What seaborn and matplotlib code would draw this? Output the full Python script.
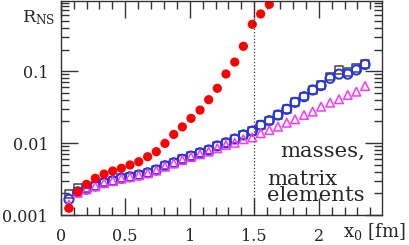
import matplotlib
matplotlib.use('Agg')
import matplotlib.pyplot as plt
import matplotlib.ticker as mticker
import seaborn as sns
import pandas as pd

# x0 values (fm) for each point
x0 = [0.064, 0.132, 0.200, 0.268, 0.336, 0.403, 0.470, 0.537, 0.605, 0.674,
      0.741, 0.808, 0.876, 0.943, 1.010, 1.080, 1.147, 1.214, 1.281, 1.349,
      1.416, 1.485, 1.550, 1.617, 1.684, 1.752, 1.816, 1.886, 1.953, 2.018,
      2.088, 2.157, 2.225, 2.292, 2.359]

# filled red circles (end when they leave the frame)
r_red = [0.00124, 0.00211, 0.00267, 0.00324, 0.00371, 0.00409, 0.00446, 0.00496,
         0.00551, 0.00647, 0.0076, 0.0099, 0.0132, 0.0168, 0.0221, 0.0288,
         0.0402, 0.0578, 0.0914, 0.134, 0.222, 0.449, 0.625, 0.85]

# open blue circles
r_blue = [0.00165, 0.0021, 0.00228, 0.00253, 0.00281, 0.0030, 0.00324, 0.0034,
          0.0036, 0.00387, 0.00423, 0.00485, 0.00533, 0.00595, 0.0066, 0.00734,
          0.00802, 0.00912, 0.0101, 0.0114, 0.0130, 0.0147, 0.0177, 0.0205,
          0.0246, 0.0295, 0.0369, 0.0442, 0.0548, 0.063, 0.0797, 0.091, 0.091,
          0.104, 0.124]

# open black squares
r_square = [0.00196, 0.00235, 0.00235, 0.00255, 0.00283, 0.0030, 0.00326, 0.0034,
            0.0036, 0.00389, 0.00425, 0.00487, 0.00535, 0.00597, 0.0066, 0.00736,
            0.00805, 0.00915, 0.0101, 0.0114, 0.0131, 0.0148, 0.0178, 0.0206,
            0.0247, 0.0296, 0.0370, 0.0444, 0.0550, 0.064, 0.0845, 0.104, 0.098,
            0.112, 0.125]

# open magenta triangles
r_tri = [0.0014, 0.00204, 0.00228, 0.0025, 0.00278, 0.00297, 0.0032, 0.00336,
         0.00355, 0.0038, 0.00415, 0.0047, 0.0052, 0.0058, 0.0064, 0.0070,
         0.0076, 0.00848, 0.00942, 0.0101, 0.0113, 0.0120, 0.0137, 0.0152,
         0.0169, 0.0192, 0.0214, 0.0246, 0.0274, 0.0321, 0.0365, 0.0407,
         0.0467, 0.0519, 0.0622]

df_red = pd.DataFrame({'x0': x0[:len(r_red)], 'R': r_red})
df_blue = pd.DataFrame({'x0': x0, 'R': r_blue})
df_sq = pd.DataFrame({'x0': x0, 'R': r_square})
df_tri = pd.DataFrame({'x0': x0, 'R': r_tri})

sns.set_style('ticks')
plt.rcParams['font.family'] = ['DejaVu Serif']
plt.rcParams['mathtext.fontset'] = 'dejavuserif'

W, H = 409, 245
fig = plt.figure(figsize=(W / 100, H / 100), dpi=100)
ax = fig.add_axes([60.7 / W, 1 - 215 / H, (381.7 - 60.7) / W, (215 - 1) / H])

sns.scatterplot(data=df_sq, x='x0', y='R', ax=ax, marker='s', s=32,
                facecolor='none', edgecolor='#444444', linewidth=1.1)
sns.scatterplot(data=df_blue, x='x0', y='R', ax=ax, marker='o', s=44,
                facecolor='none', edgecolor='#2233ee', linewidth=1.4)
sns.scatterplot(data=df_tri, x='x0', y='R', ax=ax, marker='^', s=38,
                facecolor='none', edgecolor='#ff33ff', linewidth=1.1)
sns.scatterplot(data=df_red, x='x0', y='R', ax=ax, marker='o', s=44,
                color='#ff0000', edgecolor='none', linewidth=0)

ax.axvline(1.5, color='#333333', ls=':', lw=0.9)

ax.set_yscale('log')
ax.set_xlim(0, 2.488)
ax.set_ylim(0.001, 0.947)
ax.set_xlabel('')
ax.set_ylabel('')

ax.xaxis.set_major_locator(mticker.MultipleLocator(0.5))
ax.xaxis.set_minor_locator(mticker.MultipleLocator(0.1))
ax.xaxis.set_major_formatter(mticker.FuncFormatter(lambda v, p: '%g' % v if v < 2.4 else ''))
ax.yaxis.set_major_locator(mticker.LogLocator(base=10))
ax.yaxis.set_minor_locator(mticker.LogLocator(base=10, subs=range(2, 10)))
ax.yaxis.set_major_formatter(mticker.FuncFormatter(lambda v, p: '%g' % v))
ax.yaxis.set_minor_formatter(mticker.NullFormatter())

ax.tick_params(which='both', direction='in', top=True, right=True,
               color='#333333', width=1.0)
ax.tick_params(which='major', length=12, labelsize=11.5, pad=9)
ax.tick_params(which='minor', length=6)
for sp in ax.spines.values():
    sp.set_color('#333333')
    sp.set_linewidth(1.0)

fig.text(22 / W, 1 - 22 / H, r'R$_{\mathregular{NS}}$', fontsize=12.5,
         ha='left', va='baseline')
fig.text(343 / W, 1 - 237 / H, r'x$_{\mathregular{0}}$ [fm]', fontsize=13,
         ha='left', va='baseline')

# annotation: "matrix" and "elements" as one block so the lines sit tight
fig.text(280 / W, 1 - 157 / H, 'masses,', fontsize=15.3, ha='left', va='baseline')
fig.text(267 / W, 1 - 200.7 / H, 'matrix\nelements', fontsize=15.3, ha='left',
         va='baseline', linespacing=0.78)

fig.savefig('out.png', dpi=100)
